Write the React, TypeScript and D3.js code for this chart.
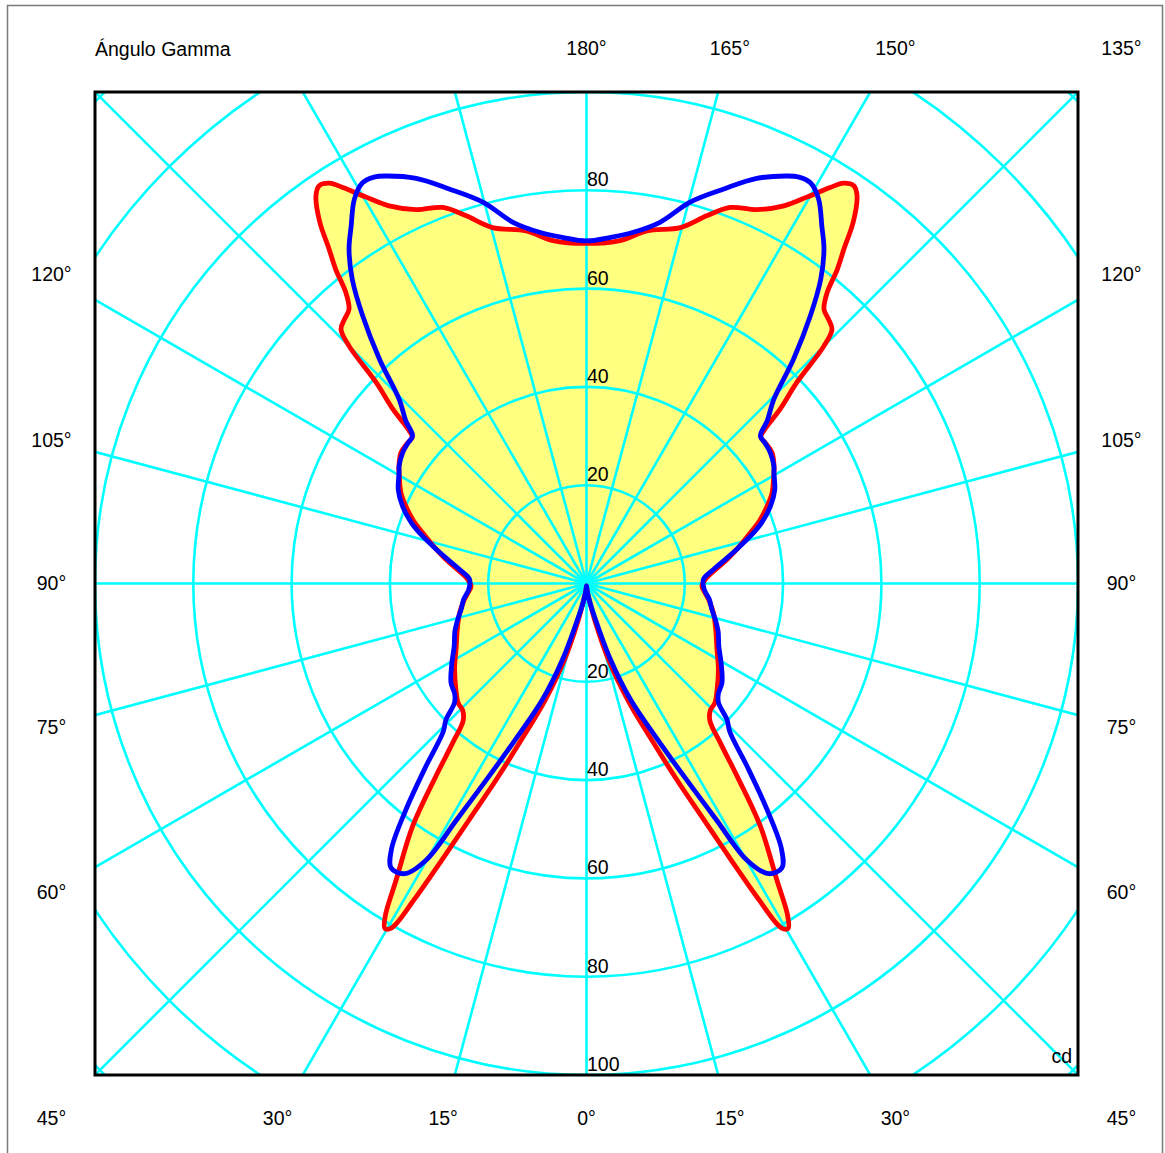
import React from 'react';
import * as d3 from 'd3';

// ---- data (candela vs gamma angle, symmetric left/right) ----
const redGamma = [0, 5, 9, 13, 16.1, 19.5, 22.6, 24.7, 26.4, 27.6, 28.6, 29.5, 30.3, 31.2, 32.7, 35.6, 38, 40, 42, 44.5, 47, 51, 57, 64, 70, 77, 82, 85.5, 88.7, 92, 96, 99.7, 103, 107.2, 110, 113.2, 116, 119.8, 122, 125.2, 128, 130, 130.8, 132, 133.7, 135, 136, 137.5, 139.1, 140.4, 141.4, 142.4, 143.6, 145.1, 146.1, 147.3, 148.4, 150.3, 152.4, 155.5, 159.1, 161.9, 165.2, 170.3, 174.4, 180];
const redCd = [0.5, 1.5, 3, 8.2, 16.1, 25.1, 34.4, 43.9, 53.6, 63.4, 73.3, 80.5, 81.3, 79, 71.7, 60.8, 49.8, 42.4, 37.5, 36, 35.7, 34.2, 32, 29.5, 28, 26.5, 25.2, 24.2, 23.5, 24.2, 26.3, 29, 31.5, 34.9, 37.5, 40, 42, 43.9, 45, 46.2, 46.3, 46.3, 47.8, 53, 59.2, 68.3, 71.9, 72.9, 73.8, 76.8, 81.8, 85.8, 91.5, 96.2, 97.5, 96.8, 94.6, 90.5, 86.7, 83.6, 81.9, 78.7, 74.9, 72.8, 70.1, 69.2];

const blueGamma = [0, 5, 10, 14.4, 17.5, 20.8, 24.5, 27, 28.8, 30.1, 32.1, 34.5, 36.3, 38.6, 41.3, 44, 45.9, 47.9, 50, 53.7, 59, 64.6, 70, 74.4, 78.5, 82.6, 87, 92, 96, 100, 103, 106.1, 109, 112.8, 116.5, 120.6, 122.1, 125.4, 128, 130.3, 132, 134.5, 137.3, 140.1, 142.4, 144.6, 146.6, 148.9, 150.8, 152.4, 153.8, 157.2, 160.8, 164.8, 168.5, 172.4, 176, 180];
const blueCd = [0.5, 1.5, 4, 8.2, 16.2, 25.3, 34.9, 44.8, 54.9, 65, 69.7, 70.2, 67, 58.9, 49.5, 42, 39.8, 36.2, 35, 34.2, 32, 29.8, 28.5, 27.2, 26, 25.2, 24, 23.8, 25.8, 28.8, 31.5, 34.7, 37.6, 40.6, 42.8, 44.3, 45, 45.9, 46.2, 46.4, 49.5, 53.4, 62.1, 71, 78.1, 83.4, 87, 91.4, 93.4, 93.3, 92.4, 89.4, 85, 80.4, 75, 72.1, 70.6, 69.7];

const ringValues = [20, 40, 60, 80, 100, 120, 140];
const ringLabelsUp = ['20', '40', '60', '80'];
const ringLabelsDown = ['20', '40', '60', '80', '100'];
const spokeGammas = [0, 15, 30, 45, 60, 75, 90, 105, 120, 135, 150, 165, 180, 195, 210, 225, 240, 255, 270, 285, 300, 315, 330, 345];
const rightGammaLabels = [0, 15, 30, 45, 60, 75, 90, 105, 120, 135, 150, 165, 180];
const leftGammaLabels = [15, 30, 45, 60, 75, 90, 105, 120];
const titleText = 'Ángulo Gamma';
const unitText = 'cd';

// ---- layout ----
const W = 1165, H = 1153;
const CX = 586.5, CY = 583.5;
const BX0 = 95, BY0 = 92, BX1 = 1078, BY1 = 1075;
const LABEL_HALF = 535;
const FONT = "'Liberation Sans', Arial, Helvetica, sans-serif";
const FS = 19.5;

const r = d3.scaleLinear().domain([0, 100]).range([0, 491.5]);
const rad = (g: number) => (g * Math.PI) / 180;

function closedPoints(gs: number[], vs: number[]) {
  const pts: { a: number; v: number }[] = [];
  for (let i = gs.length - 1; i >= 0; i--) pts.push({ a: Math.PI - rad(gs[i]), v: vs[i] });
  for (let i = 1; i < gs.length - 1; i++) pts.push({ a: Math.PI + rad(gs[i]), v: vs[i] });
  return pts;
}

const radial = d3
  .lineRadial<{ a: number; v: number }>()
  .angle((d) => d.a)
  .radius((d) => r(d.v))
  .curve(d3.curveCatmullRomClosed.alpha(0.5));

function labelPos(g: number, side: number) {
  const s = Math.sin(rad(g)), c = Math.cos(rad(g));
  const t = LABEL_HALF / Math.max(Math.abs(s), Math.abs(c));
  return { x: CX + side * t * s, y: CY + t * c };
}

export default function App() {
  const redPath = radial(closedPoints(redGamma, redCd)) || '';
  const bluePath = radial(closedPoints(blueGamma, blueCd)) || '';
  const spokeLen = 800;
  return (
    <div style={{ position: 'absolute', left: 0, top: 0, width: W, height: H, background: '#fff' }}>
      <svg width={W} height={H} style={{ display: 'block' }} fontFamily={FONT}>
        <defs>
          <clipPath id="boxclip">
            <rect x={BX0} y={BY0} width={BX1 - BX0} height={BY1 - BY0} />
          </clipPath>
        </defs>
        <rect x={7.5} y={5.5} width={1155} height={1200} fill="none" stroke="#7a7a7a" strokeWidth={1.5} />
        <g clipPath="url(#boxclip)">
          <path d={redPath} transform={`translate(${CX},${CY})`} fill="#FFFF80" stroke="none" />
          {ringValues.map((v) => (
            <circle key={v} cx={CX} cy={CY} r={r(v)} fill="none" stroke="#00FFFF" strokeWidth={2.6} />
          ))}
          {spokeGammas.map((g) => (
            <line
              key={g}
              x1={CX}
              y1={CY}
              x2={CX + spokeLen * Math.sin(rad(g))}
              y2={CY + spokeLen * Math.cos(rad(g))}
              stroke="#00FFFF"
              strokeWidth={2.6}
            />
          ))}
        </g>
        <path d={redPath} transform={`translate(${CX},${CY})`} fill="none" stroke="#FF0000" strokeWidth={4.8} strokeLinejoin="round" />
        <path d={bluePath} transform={`translate(${CX},${CY})`} fill="none" stroke="#0000FF" strokeWidth={4.8} strokeLinejoin="round" />
        {ringLabelsUp.map((t, i) => (
          <text key={'u' + t} x={CX + 0.5} y={CY - r(ringValues[i]) - 4} fontSize={FS} fill="#000">{t}</text>
        ))}
        {ringLabelsDown.map((t, i) => (
          <text key={'d' + t} x={CX + 0.5} y={CY + r(ringValues[i]) - 4} fontSize={FS} fill="#000">{t}</text>
        ))}
        <rect x={BX0} y={BY0} width={BX1 - BX0} height={BY1 - BY0} fill="none" stroke="#000" strokeWidth={3} />
        <text x={1072} y={1063} fontSize={FS} textAnchor="end">{unitText}</text>
        <text x={BX0} y={49} dy="0.35em" fontSize={FS}>{titleText}</text>
        {rightGammaLabels.map((g) => {
          const p = labelPos(g, 1);
          return (
            <text key={'r' + g} x={p.x} y={p.y} dy="0.35em" fontSize={FS} textAnchor="middle">{`${g}°`}</text>
          );
        })}
        {leftGammaLabels.map((g) => {
          const p = labelPos(g, -1);
          return (
            <text key={'l' + g} x={p.x} y={p.y} dy="0.35em" fontSize={FS} textAnchor="middle">{`${g}°`}</text>
          );
        })}
      </svg>
    </div>
  );
}
